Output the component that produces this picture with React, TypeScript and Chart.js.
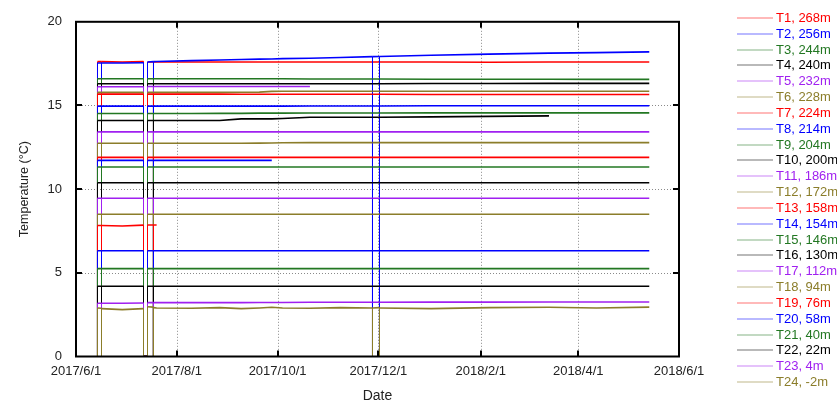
import React, { useEffect, useRef } from 'react';
import { Chart, registerables } from 'chart.js';

Chart.register(...registerables);

// Days since 2017/6/1 at which readings are listed (shared by all sensors).
// Repeated days are instantaneous drop-outs (reading of 0) of the loggers.
const DAYS = [
  13.01, 13.01, 15.44, 15.44, 15.44, 28, 40.86, 40.86, 43.28, 43.28, 46.91, 46.91, 46.91, 48.8,
  70, 87, 100, 111, 118.5, 125, 141.6, 160, 179.47, 179.47, 179.47, 183.71, 183.71, 183.71,
  215, 250, 286.3, 315, 347,
];

const T1 = [0, 17.62, 17.62, 0, 17.62, 17.6, 17.62, 0, 0, 17.6, 17.6, 0, 17.6, 17.6, 17.6, 17.6, 17.6, 17.6, 17.6, 17.6, 17.6, 17.6, 17.6, 17.6, 17.6, 17.6, 17.6, 17.6, 17.6, 17.58, 17.6, 17.6, 17.6];
const T2 = [0, 17.54, 17.54, 0, 17.54, 17.54, 17.55, 0, 0, 17.6, 17.62, 0, 17.62, 17.63, 17.68, 17.72, 17.75, 17.77, 17.78, 17.8, 17.82, 17.87, 17.92, 0, 17.92, 17.93, 0, 17.93, 18.0, 18.07, 18.13, 18.16, 18.2];
const T3 = [0, 16.6, 16.6, 0, 16.6, 16.6, 16.6, 0, 0, 16.6, 16.6, 0, 16.6, 16.6, 16.6, 16.6, 16.6, 16.6, 16.6, 16.6, 16.58, 16.58, 16.58, 16.58, 16.58, 16.58, 16.58, 16.58, 16.57, 16.57, 16.57, 16.56, 16.56];
const T4 = [0, 16.3, 16.3, 0, 16.3, 16.3, 16.3, 0, 0, 16.3, 16.3, 0, 16.3, 16.3, 16.3, 16.3, 16.3, 16.3, 16.3, 16.3, 16.3, 16.3, 16.3, 16.3, 16.3, 16.3, 16.3, 16.3, 16.31, 16.31, 16.32, 16.32, 16.32];
const T5 = [0, 16.12, 16.12, 0, 16.12, 16.12, 16.12, 0, 0, 16.13, 16.13, 0, 16.13, 16.13, 16.13, 16.13, 16.13, 16.13, 16.13, 16.13, 16.13, null, null, null, null, null, null, null, null, null, null, null, null];
const T6 = [0, 15.78, 15.78, 0, 15.78, 15.78, 15.78, 0, 0, 15.78, 15.78, 0, 15.78, 15.78, 15.78, 15.78, 15.79, 15.8, 15.84, 15.85, 15.85, 15.85, 15.85, 15.85, 15.85, 15.85, 15.85, 15.85, 15.85, 15.85, 15.85, 15.85, 15.85];
const T7 = [0, 15.68, 15.68, 0, 15.68, 15.68, 15.68, 0, 0, 15.68, 15.68, 0, 15.68, 15.68, 15.68, 15.68, 15.67, 15.67, 15.67, 15.67, 15.67, 15.67, 15.67, 15.67, 15.67, 15.67, 15.67, 15.67, 15.66, 15.66, 15.66, 15.66, 15.66];
const T8 = [0, 14.96, 14.96, 0, 14.96, 14.96, 14.96, 0, 0, 14.96, 14.96, 0, 14.96, 14.96, 14.96, 14.96, 14.96, 14.96, 14.96, 14.96, 14.97, 14.97, 14.97, 0, 14.97, 14.97, 0, 14.97, 14.98, 14.98, 14.98, 14.98, 14.98];
const T9 = [0, 14.52, 14.52, 0, 14.52, 14.52, 14.52, 0, 0, 14.52, 14.52, 0, 14.52, 14.52, 14.52, 14.53, 14.53, 14.54, 14.54, 14.54, 14.55, 14.55, 14.55, 14.55, 14.55, 14.55, 14.55, 14.55, 14.56, 14.56, 14.56, 14.56, 14.56];
const T10 = [0, 14.1, 14.1, 0, 14.1, 14.1, 14.1, 0, 0, 14.1, 14.1, 0, 14.1, 14.1, 14.1, 14.1, 14.2, 14.2, 14.2, 14.22, 14.3, 14.3, 14.3, 14.3, 14.3, 14.3, 14.3, 14.3, 14.32, 14.35, 14.38, null, null];
const T11 = [0, 13.42, 13.42, 0, 13.42, 13.42, 13.42, 0, 0, 13.42, 13.42, 0, 13.42, 13.42, 13.42, 13.42, 13.42, 13.42, 13.42, 13.42, 13.42, 13.42, 13.42, 13.42, 13.42, 13.42, 13.42, 13.42, 13.42, 13.42, 13.42, 13.42, 13.42];
const T12 = [0, 12.74, 12.74, 0, 12.74, 12.74, 12.74, 0, 0, 12.74, 12.74, 0, 12.74, 12.74, 12.74, 12.74, 12.74, 12.75, 12.76, 12.77, 12.78, 12.78, 12.78, 12.78, 12.78, 12.78, 12.78, 12.78, 12.78, 12.78, 12.78, 12.78, 12.78];
const T13 = [0, 11.9, 11.9, 0, 11.9, 11.9, 11.9, 0, 0, 11.9, 11.9, 0, 11.9, 11.9, 11.9, 11.9, 11.9, 11.9, 11.9, 11.9, 11.9, 11.9, 11.9, 11.9, 11.9, 11.9, 11.9, 11.9, 11.9, 11.9, 11.9, 11.9, 11.9];
const T14 = [0, 11.72, 11.72, 0, 11.72, 11.72, 11.72, 0, 0, 11.72, 11.72, 0, 11.72, 11.72, 11.72, 11.72, 11.72, 11.72, 11.72, null, null, null, null, null, null, null, null, null, null, null, null, null, null];
const T15 = [0, 11.32, 11.32, 0, 11.32, 11.32, 11.32, 0, 0, 11.32, 11.32, 0, 11.32, 11.32, 11.32, 11.32, 11.32, 11.32, 11.32, 11.32, 11.32, 11.32, 11.32, 11.32, 11.32, 11.32, 11.32, 11.32, 11.32, 11.32, 11.32, 11.32, 11.32];
const T16 = [0, 10.38, 10.38, 0, 10.38, 10.38, 10.38, 0, 0, 10.38, 10.38, 0, 10.38, 10.38, 10.38, 10.38, 10.38, 10.38, 10.38, 10.38, 10.38, 10.38, 10.38, 10.38, 10.38, 10.38, 10.38, 10.38, 10.38, 10.38, 10.38, 10.38, 10.38];
const T17 = [0, 9.46, 9.46, 0, 9.46, 9.46, 9.46, 0, 0, 9.46, 9.46, 0, 9.46, 9.46, 9.46, 9.46, 9.46, 9.46, 9.46, 9.46, 9.46, 9.46, 9.46, 9.46, 9.46, 9.46, 9.46, 9.46, 9.46, 9.46, 9.46, 9.46, 9.46];
const T18 = [0, 8.5, 8.5, 0, 8.5, 8.5, 8.5, 0, 0, 8.5, 8.5, 0, 8.5, 8.5, 8.5, 8.5, 8.5, 8.5, 8.5, 8.5, 8.5, 8.5, 8.5, 8.5, 8.5, 8.5, 8.5, 8.5, 8.5, 8.5, 8.5, 8.5, 8.5];
const T19 = [0, 7.83, 7.83, 0, 7.83, 7.8, 7.85, 0, 0, 7.86, 7.86, 0, 7.86, 7.86, null, null, null, null, null, null, null, null, null, null, null, null, null, null, null, null, null, null, null];
const T20 = [0, 6.32, 6.32, 0, 6.32, 6.32, 6.32, 0, 0, 6.32, 6.32, 0, 6.32, 6.32, 6.32, 6.32, 6.32, 6.32, 6.32, 6.32, 6.32, 6.32, 6.32, 0, 6.32, 6.32, 0, 6.32, 6.32, 6.32, 6.32, 6.32, 6.32];
const T21 = [0, 5.25, 5.25, 0, 5.25, 5.25, 5.25, 0, 0, 5.25, 5.25, 0, 5.25, 5.25, 5.25, 5.25, 5.25, 5.25, 5.25, 5.25, 5.25, 5.25, 5.25, 5.25, 5.25, 5.25, 5.25, 5.25, 5.25, 5.25, 5.25, 5.25, 5.25];
const T22 = [0, 4.2, 4.2, 0, 4.2, 4.2, 4.2, 0, 0, 4.2, 4.2, 0, 4.2, 4.2, 4.2, 4.2, 4.2, 4.2, 4.2, 4.2, 4.2, 4.2, 4.2, 4.2, 4.2, 4.2, 4.2, 4.2, 4.2, 4.2, 4.2, 4.2, 4.2];
const T23 = [0, 3.18, 3.18, 0, 3.18, 3.18, 3.2, 0, 0, 3.22, 3.22, 0, 3.22, 3.22, 3.22, 3.22, 3.22, 3.23, 3.23, 3.23, 3.24, 3.24, 3.24, 3.24, 3.24, 3.24, 3.24, 3.24, 3.25, 3.25, 3.26, 3.26, 3.26];
const T24 = [0, 2.9, 2.88, 0, 2.86, 2.8, 2.86, 0, 0, 2.97, 2.95, 0, 2.92, 2.9, 2.88, 2.92, 2.86, 2.9, 2.94, 2.9, 2.88, 2.92, 2.9, 0, 2.9, 2.92, 0, 2.9, 2.86, 2.92, 2.94, 2.9, 2.95];

const SERIES = [T1, T2, T3, T4, T5, T6, T7, T8, T9, T10, T11, T12, T13, T14, T15, T16, T17, T18, T19, T20, T21, T22, T23, T24];
const LABELS = [
  'T1, 268m', 'T2, 256m', 'T3, 244m', 'T4, 240m', 'T5, 232m', 'T6, 228m',
  'T7, 224m', 'T8, 214m', 'T9, 204m', 'T10, 200m', 'T11, 186m', 'T12, 172m',
  'T13, 158m', 'T14, 154m', 'T15, 146m', 'T16, 130m', 'T17, 112m', 'T18, 94m',
  'T19, 76m', 'T20, 58m', 'T21, 40m', 'T22, 22m', 'T23, 4m', 'T24, -2m',
];
const COLOR_CYCLE = ['#ff0000', '#0000ff', '#227722', '#000000', '#a020f0', '#8b7d2a'];

const X_TICK_DAYS = [0, 61, 122, 183, 245, 304, 365];
const X_TICK_LABELS = ['2017/6/1', '2017/8/1', '2017/10/1', '2017/12/1', '2018/2/1', '2018/4/1', '2018/6/1'];
const Y_TICKS = [0, 5, 10, 15, 20];

const FONT = "'Liberation Sans', Arial, Helvetica, sans-serif";

const framePlugin = {
  id: 'gnuFrame',
  beforeDatasetsDraw(chart: any) {
    const { ctx, chartArea: a, scales } = chart;
    const x = scales.x;
    const y = scales.y;
    ctx.save();
    ctx.strokeStyle = '#8a8a8a';
    ctx.lineWidth = 1;
    ctx.setLineDash([1, 2]);
    X_TICK_DAYS.slice(1, -1).forEach((d) => {
      const px = Math.round(x.getPixelForValue(d)) + 0.5;
      ctx.beginPath();
      ctx.moveTo(px, a.top);
      ctx.lineTo(px, a.bottom);
      ctx.stroke();
    });
    Y_TICKS.slice(1, -1).forEach((v) => {
      const py = Math.round(y.getPixelForValue(v)) + 0.5;
      ctx.beginPath();
      ctx.moveTo(a.left, py);
      ctx.lineTo(a.right, py);
      ctx.stroke();
    });
    ctx.restore();
  },
  afterDatasetsDraw(chart: any) {
    const { ctx, chartArea: a, scales } = chart;
    const x = scales.x;
    const y = scales.y;
    ctx.save();
    ctx.strokeStyle = '#000';
    ctx.lineWidth = 2;
    ctx.setLineDash([]);
    const L = 6;
    X_TICK_DAYS.slice(1, -1).forEach((d) => {
      const px = Math.round(x.getPixelForValue(d));
      ctx.beginPath();
      ctx.moveTo(px, a.bottom);
      ctx.lineTo(px, a.bottom - L);
      ctx.moveTo(px, a.top);
      ctx.lineTo(px, a.top + L);
      ctx.stroke();
    });
    Y_TICKS.slice(1, -1).forEach((v) => {
      const py = Math.round(y.getPixelForValue(v));
      ctx.beginPath();
      ctx.moveTo(a.left, py);
      ctx.lineTo(a.left + L, py);
      ctx.moveTo(a.right, py);
      ctx.lineTo(a.right - L, py);
      ctx.stroke();
    });
    ctx.strokeRect(a.left, a.top, a.right - a.left, a.bottom - a.top);
    ctx.restore();
  },
  afterDraw(chart: any) {
    const { ctx } = chart;
    ctx.save();
    ctx.font = `13px ${FONT}`;
    ctx.textBaseline = 'middle';
    ctx.textAlign = 'left';
    chart.data.datasets.forEach((ds: any, i: number) => {
      const yc = Math.round(18 + i * 15.83);
      ctx.strokeStyle = ds.borderColor;
      ctx.lineWidth = 1;
      ctx.globalAlpha = 0.55;
      ctx.beginPath();
      ctx.moveTo(737, yc);
      ctx.lineTo(773, yc);
      ctx.stroke();
      ctx.globalAlpha = 1;
      ctx.fillStyle = ds.borderColor;
      ctx.fillText(ds.label, 776, yc + 0.5);
    });
    ctx.restore();
  },
};

export default function App() {
  const ref = useRef<HTMLCanvasElement | null>(null);
  useEffect(() => {
    document.body.style.margin = '0';
    const canvas = ref.current;
    if (!canvas) return;
    const datasets = SERIES.map((vals, i) => {
      const color = COLOR_CYCLE[i % COLOR_CYCLE.length];
      return {
        label: LABELS[i],
        data: DAYS.map((d, k) => ({ x: d, y: vals[k] })),
        borderColor: color,
        backgroundColor: color,
        borderWidth: 1.6,
        pointRadius: 0,
        tension: 0,
        fill: false,
        spanGaps: false,
        borderCapStyle: 'butt',
        borderJoinStyle: 'miter',
        order: SERIES.length - i,
        segment: {
          borderWidth: (c: any) => (c.p0.parsed.x === c.p1.parsed.x ? 1 : 1.6),
        },
      };
    });
    const chart = new Chart(canvas, {
      type: 'line',
      data: { datasets },
      plugins: [framePlugin],
      options: {
        animation: false,
        responsive: false,
        devicePixelRatio: 1,
        layout: { padding: { left: 0, right: 158, top: 16.5, bottom: 0 } },
        plugins: { legend: { display: false }, tooltip: { enabled: false } },
        scales: {
          x: {
            type: 'linear',
            min: 0,
            max: 365,
            afterBuildTicks: (s: any) => {
              s.ticks = X_TICK_DAYS.map((v) => ({ value: v }));
            },
            afterFit: (s: any) => {
              s.height = 52.5;
            },
            grid: { display: false, drawTicks: false },
            border: { display: false },
            ticks: {
              autoSkip: false,
              maxRotation: 0,
              padding: 7.5,
              color: '#222',
              font: { family: FONT, size: 13 },
              callback: (v: any) => X_TICK_LABELS[X_TICK_DAYS.indexOf(Number(v))] ?? '',
            },
            title: {
              display: true,
              text: 'Date',
              color: '#222',
              font: { family: FONT, size: 14 },
              padding: { top: 0, bottom: 4 },
            },
          },
          y: {
            type: 'linear',
            min: 0,
            max: 20,
            afterBuildTicks: (s: any) => {
              s.ticks = Y_TICKS.map((v) => ({ value: v }));
            },
            afterFit: (s: any) => {
              s.width = 76;
            },
            grid: { display: false, drawTicks: false },
            border: { display: false },
            ticks: {
              padding: 14,
              color: '#222',
              font: { family: FONT, size: 13 },
            },
            title: {
              display: true,
              text: 'Temperature (°C)',
              color: '#222',
              font: { family: FONT, size: 12.5 },
              padding: { top: 17, bottom: 0 },
            },
          },
        },
      },
    });
    return () => chart.destroy();
  }, []);
  return (
    <div style={{ position: 'fixed', left: 0, top: 0, width: 837, height: 409, background: '#fff' }}>
      <canvas ref={ref} width={837} height={409} />
    </div>
  );
}
